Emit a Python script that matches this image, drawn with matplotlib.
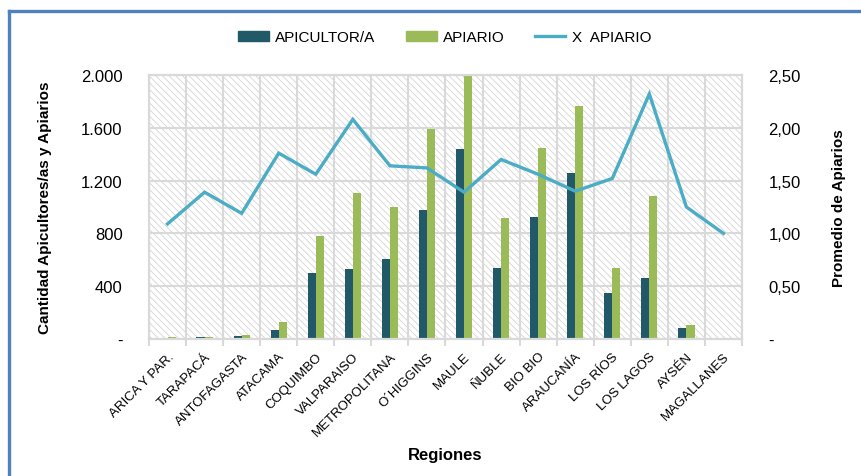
import numpy as np
import matplotlib
matplotlib.use("Agg")
import matplotlib.pyplot as plt
from matplotlib.patches import Rectangle, Patch
from matplotlib.lines import Line2D
from matplotlib.ticker import FuncFormatter

plt.rcParams['font.family'] = ['Liberation Sans', 'DejaVu Sans']
plt.rcParams['hatch.linewidth'] = 0.6

# Datos por region
regiones = ["ARICA Y PAR.", "TARAPACÁ", "ANTOFAGASTA", "ATACAMA", "COQUIMBO",
            "VALPARAISO", "METROPOLITANA", "O´HIGGINS", "MAULE", "ÑUBLE",
            "BIO BIO", "ARAUCANÍA", "LOS RÍOS", "LOS LAGOS", "AYSÉN", "MAGALLANES"]
apicultores = [3, 12, 22, 71, 502, 530, 608, 980, 1442, 536, 924, 1254, 348, 462, 81, 2]
apiarios = [14, 14, 30, 129, 780, 1104, 1002, 1591, 2000, 917, 1450, 1767, 541, 1084, 104, 2]
prom_apiarios = [1.09, 1.39, 1.19, 1.76, 1.56, 2.08, 1.64, 1.62, 1.39, 1.70,
                 1.56, 1.40, 1.52, 2.32, 1.25, 1.00]

c_apicultor = "#215968"
c_apiario = "#9BBB59"
c_linea = "#4BACC6"
c_grid = "#D9D9D9"

fig = plt.figure(figsize=(8.62, 4.77), dpi=100)
ax = fig.add_axes([149/862, 1-340/477, 593/862, 264/477])
ax2 = ax.twinx()

x = np.arange(len(regiones))
w = 0.22

# fondo rayado
ax.add_patch(Rectangle((0, 0), 1, 1, transform=ax.transAxes, facecolor="white",
                       edgecolor="#D4D4D4", hatch="\\\\\\\\\\", lw=0, zorder=0))

ax.bar(x - w/2, apicultores, w, color=c_apicultor, zorder=2, label="APICULTOR/A")
ax.bar(x + w/2, apiarios, w, color=c_apiario, zorder=2, label="APIARIO")
ax2.plot(x, prom_apiarios, color=c_linea, lw=2.4, label="X  APIARIO",
         solid_joinstyle="miter")

ax.set_xlim(-0.5, len(regiones) - 0.5)
ax.set_ylim(0, 2000)
ax2.set_ylim(0, 2.5)
ax.set_yticks(np.arange(0, 2001, 400))
ax2.set_yticks(np.arange(0, 2.51, 0.5))

def fmt_izq(v, pos):
    if v == 0:
        return "-"
    return "{:,.0f}".format(v).replace(",", ".")

def fmt_der(v, pos):
    if v == 0:
        return "-"
    return "{:.2f}".format(v).replace(".", ",")

ax.yaxis.set_major_formatter(FuncFormatter(fmt_izq))
ax2.yaxis.set_major_formatter(FuncFormatter(fmt_der))

ax.set_xticks(x)
ax.set_xticklabels(regiones, rotation=45, ha="right", rotation_mode="anchor", fontsize=9.5)
ax.set_xticks(np.arange(-0.5, len(regiones)), minor=True)
ax.tick_params(axis="x", which="major", length=0, pad=8)
ax.tick_params(axis="x", which="minor", length=5, color=c_grid, width=1.5)
ax.tick_params(axis="y", length=0, pad=19, labelsize=12)
ax2.tick_params(axis="y", length=0, pad=19, labelsize=12)

ax.grid(True, axis="y", which="major", color=c_grid, lw=1.5, zorder=1)
ax.grid(True, axis="x", which="minor", color=c_grid, lw=1.5, zorder=1)
ax.set_axisbelow(True)

for a in (ax, ax2):
    for s in a.spines.values():
        s.set_color(c_grid)
        s.set_linewidth(1.5)

ax.set_ylabel("Cantidad Apicultores/as y Apiarios", fontsize=11, fontweight="bold")
ax.yaxis.set_label_coords(-0.164, 0.5)
ax2.set_ylabel("Promedio de Apiarios", fontsize=11, fontweight="bold", rotation=90)
ax2.yaxis.set_label_coords(1.152, 0.5)
ax.set_xlabel("Regiones", fontsize=12, fontweight="bold")
ax.xaxis.set_label_coords(0.5, -0.409)

handles = [Patch(color=c_apicultor), Patch(color=c_apiario),
           Line2D([], [], color=c_linea, lw=2.4)]
fig.legend(handles, ["APICULTOR/A", "APIARIO", "X  APIARIO"], loc="center",
           bbox_to_anchor=(0.516, 0.92), ncol=3, frameon=False, fontsize=11,
           handlelength=2.0, handleheight=0.6, columnspacing=2.0, handletextpad=0.4)

# marco azul
fig.add_artist(Line2D([9.5/862, 9.5/862], [0, 1-11.5/477], color="#4F81BD", lw=2.4,
                      transform=fig.transFigure))
fig.add_artist(Line2D([9.5/862, 1], [1-11.5/477, 1-11.5/477], color="#4F81BD", lw=2.4,
                      transform=fig.transFigure))

fig.savefig("out.png", dpi=100)
